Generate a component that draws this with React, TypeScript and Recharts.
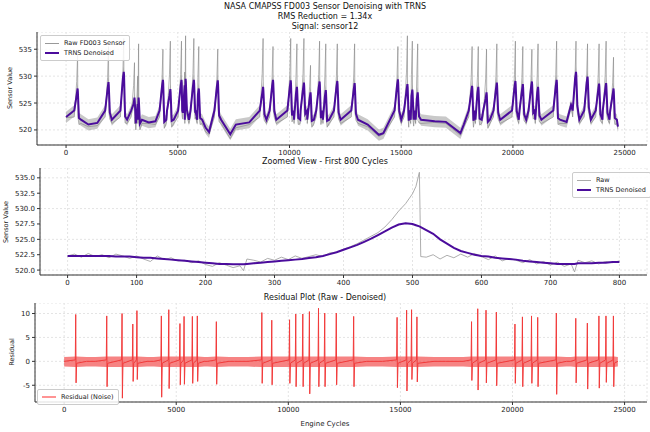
import { ComposedChart, LineChart, Line, Area, XAxis, YAxis, CartesianGrid } from 'recharts'

// spike events in the full run (cycle, denoised peak, raw peak, raw trough right after)
const peakX = [517, 1900, 2583, 3063, 3247, 4336, 4668, 5166, 5350, 5720, 5941, 6790, 8819, 9262, 10055, 10332, 10646, 10941, 11347, 11624, 12140, 12915, 14852, 15277, 15498, 15738, 18173, 18450, 18819, 19280, 20110, 20443, 20849, 21125, 21956, 22823, 23339, 23856, 24170, 24502]
const peakDen = [527.7, 528.9, 530.8, 526, 526, 529.3, 527.6, 529.3, 529.5, 529.3, 527.7, 529.2, 528, 529.3, 529.2, 528, 528.8, 527, 529, 527.4, 529.1, 528.7, 529.4, 528.5, 527.5, 527, 528.2, 528, 527, 528.8, 529.1, 528.5, 529, 528, 529.3, 530.8, 529.9, 528.6, 528.7, 527.7]
const peakRaw = [534, 535.5, 537, 532.5, 536, 535, 536.5, 536.5, 537.5, 537, 535.5, 535, 537, 535.5, 537, 536, 537, 532, 536.5, 536, 536, 536, 535.5, 537.5, 536.5, 536, 535.5, 535.5, 535, 536, 536.5, 535.5, 535, 536, 536.5, 536.5, 536, 536, 536.5, 533.5]
const peakLow = [522.5, 523.5, 522.8, 521.5, 521.5, 521.8, 522, 523.5, 524, 523.5, 522.5, 523, 523.2, 523.8, 523, 522.5, 523.3, 522, 522.5, 522, 523.5, 523.3, 523.8, 522, 522.2, 522.8, 522, 522.4, 521.8, 523.5, 523.8, 523.2, 523.5, 523, 522.5, 524.8, 524.5, 523.2, 523.5, 522.5]
// residual spike heights at each event (up, down)
const resUp = [9.8, 9.5, 10, 7.8, 10.6, 9.5, 10.8, 7.9, 9.4, 9.4, 9.5, 8.3, 10.2, 8.6, 8.7, 9.9, 9.9, 10.4, 11.1, 10.1, 10.1, 9.4, 9.2, 10.7, 10.8, 9.3, 8.3, 11, 10.7, 10.3, 7.8, 9.3, 9.5, 9.2, 10.1, 9, 8, 9.5, 9.5, 9.5]
const resDn = [-4.5, -5.3, -7.7, -4.2, -3.8, -7.5, -5.7, -4.9, -4.8, -4.6, -4.2, -4.8, -4.6, -4.9, -4.6, -5.3, -5.3, -6.8, -5.3, -5.3, -4.9, -5.3, -5.5, -6.2, -3.8, -4.3, -4.0, -6.0, -4.5, -5.1, -4.6, -5.3, -4.6, -5.3, -6.9, -4.5, -5.8, -5.6, -4.4, -5.3]
// quiet stretches between spikes (cycle, raw, denoised)
const baseX = [0, 1000, 1400, 3700, 4000, 6250, 6400, 7350, 7600, 8200, 13500, 14000, 14200, 16500, 17000, 17650, 17800, 22400, 22600, 24700]
const baseRaw = [522.3, 520.6, 520.8, 521.2, 521, 519.6, 519.2, 518.4, 520.4, 521, 520.6, 518.8, 519.2, 521.4, 521.2, 519, 520.6, 521.2, 525, 520.2]
const baseDen = [522.4, 521, 521.3, 521.4, 521.6, 520.4, 519.6, 519.2, 521, 521.4, 521, 519.1, 519.4, 521.6, 521.5, 519.4, 521, 521.5, 524.6, 520.6]

// first 800 cycles
const zoomX = [0, 10, 20, 30, 40, 50, 60, 70, 80, 90, 100, 110, 120, 130, 140, 150, 160, 170, 180, 190, 200, 210, 220, 230, 240, 250, 255, 260, 270, 280, 290, 300, 310, 320, 330, 340, 350, 360, 370, 380, 390, 400, 410, 420, 430, 440, 450, 460, 470, 480, 490, 500, 505, 510, 512, 520, 530, 540, 550, 560, 570, 580, 590, 600, 610, 620, 630, 640, 650, 660, 670, 680, 690, 700, 710, 720, 730, 735, 740, 750, 760, 770, 780, 790, 800]
const zoomRaw = [522.3, 522.6, 522.1, 522.7, 522.2, 522.5, 522.0, 522.6, 522.3, 521.9, 522.3, 521.8, 521.4, 522.3, 521.7, 522.0, 521.5, 521.6, 521.2, 521.5, 520.9, 520.6, 521.2, 520.8, 520.4, 520.7, 519.9, 521.8, 521.6, 521.3, 521.9, 521.6, 522.1, 521.7, 522.3, 521.9, 522.2, 522.5, 522.2, 522.8, 522.9, 523.4, 523.8, 524.3, 524.9, 525.5, 526.1, 527.0, 528.2, 529.6, 530.8, 532.4, 533.6, 535.9, 522.2, 522.1, 522.5, 521.8, 522.4, 522.0, 522.6, 522.1, 522.7, 522.2, 521.7, 522.3, 521.5, 521.9, 521.6, 521.2, 521.7, 521.0, 521.4, 520.8, 521.3, 520.6, 521.0, 519.7, 521.6, 521.2, 521.5, 521.0, 521.4, 521.2, 521.5]
const zoomDen = [522.3, 522.3, 522.3, 522.3, 522.3, 522.3, 522.3, 522.2, 522.2, 522.2, 522.1, 522.0, 522.0, 521.9, 521.8, 521.7, 521.6, 521.5, 521.4, 521.3, 521.2, 521.1, 521.0, 521.0, 520.95, 520.95, 520.95, 521.0, 521.1, 521.2, 521.3, 521.4, 521.5, 521.6, 521.7, 521.8, 521.95, 522.1, 522.3, 522.6, 522.9, 523.3, 523.7, 524.1, 524.6, 525.1, 525.7, 526.3, 526.9, 527.4, 527.6, 527.5, 527.3, 527.1, 527.0, 526.5, 525.9, 525.0, 524.3, 523.6, 523.1, 522.8, 522.5, 522.3, 522.2, 522.0, 521.9, 521.8, 521.7, 521.5, 521.4, 521.3, 521.2, 521.1, 521.0, 521.0, 521.0, 521.0, 521.1, 521.1, 521.1, 521.2, 521.2, 521.3, 521.3]

const fullTicks = [0, 5000, 10000, 15000, 20000, 25000]

const fullData = (() => {
  const pts: { x: number; raw: number; den: number }[] = []
  baseX.forEach((x, i) => pts.push({ x, raw: baseRaw[i], den: baseDen[i] }))
  peakX.forEach((x, i) => {
    pts.push({ x: x - 150, raw: 522.4, den: 523.6 })
    pts.push({ x: x - 40, raw: (peakRaw[i] + 524) / 2, den: peakDen[i] - 1.2 })
    pts.push({ x, raw: peakRaw[i], den: peakDen[i] })
    pts.push({ x: x + 12, raw: peakDen[i] - 5.3 - (peakLow[i] - 523) * 0.3, den: peakDen[i] - 0.6 })
    pts.push({ x: x + 60, raw: peakLow[i] - 1.5, den: peakLow[i] - 0.3 })
    pts.push({ x: x + 150, raw: 521.2, den: 521.9 })
  })
  pts.sort((a, b) => a.x - b.x)
  return pts.map((p) => ({ ...p, band: [p.den - 1.1, p.den + 1.0] as [number, number] }))
})()

const resData = (() => {
  const pts: { x: number; res: number; noise: [number, number] }[] = []
  baseX.forEach((x) => pts.push({ x, res: 0, noise: [-1.1, 0.9] }))
  peakX.forEach((x, i) => {
    pts.push({ x: x - 20, res: 0.3, noise: [-1.2, 1.0] })
    pts.push({ x, res: resUp[i], noise: [-1.2, 1.0] })
    pts.push({ x: x + 15, res: resDn[i], noise: [-1.2, 1.0] })
    pts.push({ x: x + 40, res: -0.4, noise: [-1.2, 1.0] })
  })
  pts.sort((a, b) => a.x - b.x)
  return pts
})()

const zoomData = zoomX.map((x, i) => ({ x, raw: zoomRaw[i], den: zoomDen[i] }))

const font = "'DejaVu Sans', sans-serif"
const tick = { fontSize: 7, fill: '#222', fontFamily: font }
const axisLine = { stroke: '#333' }
const W = 650

function Frame() {
  return [
    <XAxis key="xt" xAxisId="top" orientation="top" type="number" dataKey="x" tick={false} height={0} axisLine={axisLine} tickLine={false} />,
    <YAxis key="yr" yAxisId="right" orientation="right" tick={false} width={0} axisLine={axisLine} tickLine={false} />,
  ]
}

function Title({ top, children }: { top: number; children: any }) {
  return (
    <div style={{ position: 'absolute', left: 0, width: W, top, textAlign: 'center', fontFamily: font, fontSize: 8, color: '#111', lineHeight: '10px' }}>
      {children}
    </div>
  )
}

function YLabel({ top, left, text }: { top: number; left: number; text: string }) {
  return (
    <div style={{ position: 'absolute', left, top, transform: 'translate(-50%, -50%) rotate(-90deg)', fontFamily: font, fontSize: 6.5, color: '#222', whiteSpace: 'nowrap' }}>
      {text}
    </div>
  )
}

function LegendBox({ left, top, items }: { left: number; top: number; items: { label: string; color: string; w: number; op?: number }[] }) {
  return (
    <div style={{ position: 'absolute', left, top, background: 'rgba(255,255,255,0.85)', border: '1px solid #ccc', borderRadius: 2, padding: '2px 4px', fontFamily: font, fontSize: 6.5, color: '#222', whiteSpace: 'nowrap' }}>
      {items.map((it) => (
        <div key={it.label} style={{ display: 'flex', alignItems: 'center', height: 10 }}>
          <span style={{ display: 'inline-block', width: 14, height: it.w, background: it.color, opacity: it.op ?? 1, marginRight: 5 }} />
          {it.label}
        </div>
      ))}
    </div>
  )
}

export default function App() {
  return (
    <div style={{ position: 'absolute', left: 0, top: 0, width: W, height: 432, background: '#fff' }}>
      <Title top={2}>
        NASA CMAPSS FD003 Sensor Denoising with TRNS<br />RMS Reduction = 1.34x<br />Signal: sensor12
      </Title>
      <div style={{ position: 'absolute', left: 0, top: 32 }}>
        <ComposedChart width={W} height={126} data={fullData} margin={{ top: 0, right: 3, bottom: 0, left: 0 }}>
          <CartesianGrid stroke="#e4e4e4" strokeDasharray="2 2" />
          <XAxis type="number" dataKey="x" domain={[-1300, 26000]} ticks={fullTicks} tick={tick} tickSize={3} axisLine={axisLine} stroke="#333" height={13} />
          <YAxis domain={[517.2, 538.2]} ticks={[520, 525, 530, 535]} tick={tick} tickSize={3} axisLine={axisLine} stroke="#333" width={37} />
          {Frame()}
          <Area dataKey="band" stroke="none" fill="#888" fillOpacity={0.45} isAnimationActive={false} />
          <Line dataKey="raw" stroke="#888" strokeWidth={0.8} strokeOpacity={0.8} dot={false} isAnimationActive={false} />
          <Line dataKey="den" stroke="#4b0c9c" strokeWidth={2} dot={false} isAnimationActive={false} />
        </ComposedChart>
      </div>
      <YLabel left={10} top={88} text="Sensor Value" />
      <LegendBox left={40} top={35} items={[{ label: 'Raw FD003 Sensor', color: '#999', w: 1 }, { label: 'TRNS Denoised', color: '#4b0c9c', w: 2.5 }]} />

      <Title top={157}>Zoomed View - First 800 Cycles</Title>
      <div style={{ position: 'absolute', left: 0, top: 168 }}>
        <LineChart width={W} height={120} data={zoomData} margin={{ top: 0, right: 3, bottom: 0, left: 0 }}>
          <CartesianGrid stroke="#e4e4e4" strokeDasharray="2 2" />
          <XAxis type="number" dataKey="x" domain={[-40, 840]} ticks={[0, 100, 200, 300, 400, 500, 600, 700, 800]} tick={tick} tickSize={3} axisLine={axisLine} stroke="#333" height={13} />
          <YAxis domain={[519.2, 536.6]} ticks={[520, 522.5, 525, 527.5, 530, 532.5, 535]} tickFormatter={(v: number) => v.toFixed(1)} tick={tick} tickSize={3} axisLine={axisLine} stroke="#333" width={40} />
          {Frame()}
          <Line dataKey="raw" stroke="#999" strokeWidth={0.8} dot={false} isAnimationActive={false} />
          <Line dataKey="den" stroke="#4b0c9c" strokeWidth={2} dot={false} isAnimationActive={false} />
        </LineChart>
      </div>
      <YLabel left={6} top={222} text="Sensor Value" />
      <LegendBox left={572} top={172} items={[{ label: 'Raw', color: '#aaa', w: 1 }, { label: 'TRNS Denoised', color: '#4b0c9c', w: 2.5 }]} />

      <Title top={293}>Residual Plot (Raw - Denoised)</Title>
      <div style={{ position: 'absolute', left: 0, top: 303 }}>
        <ComposedChart width={W} height={112} data={resData} margin={{ top: 0, right: 3, bottom: 0, left: 0 }}>
          <CartesianGrid stroke="#e4e4e4" strokeDasharray="2 2" />
          <XAxis type="number" dataKey="x" domain={[-1300, 26000]} ticks={fullTicks} tick={tick} tickSize={3} axisLine={axisLine} stroke="#333" height={13} />
          <YAxis domain={[-8.5, 12.2]} ticks={[-5, 0, 5, 10]} tick={tick} tickSize={3} axisLine={axisLine} stroke="#333" width={35} />
          {Frame()}
          <Area dataKey="noise" stroke="none" fill="#f03030" fillOpacity={0.6} isAnimationActive={false} />
          <Line dataKey="res" stroke="#f23a3a" strokeWidth={1} dot={false} isAnimationActive={false} />
        </ComposedChart>
      </div>
      <YLabel left={12} top={352} text="Residual" />
      <LegendBox left={37} top={389} items={[{ label: 'Residual (Noise)', color: '#f66', w: 1.5, op: 0.7 }]} />
      <div style={{ position: 'absolute', left: 0, width: W, top: 420, textAlign: 'center', fontFamily: font, fontSize: 7, color: '#222' }}>Engine Cycles</div>
    </div>
  )
}
